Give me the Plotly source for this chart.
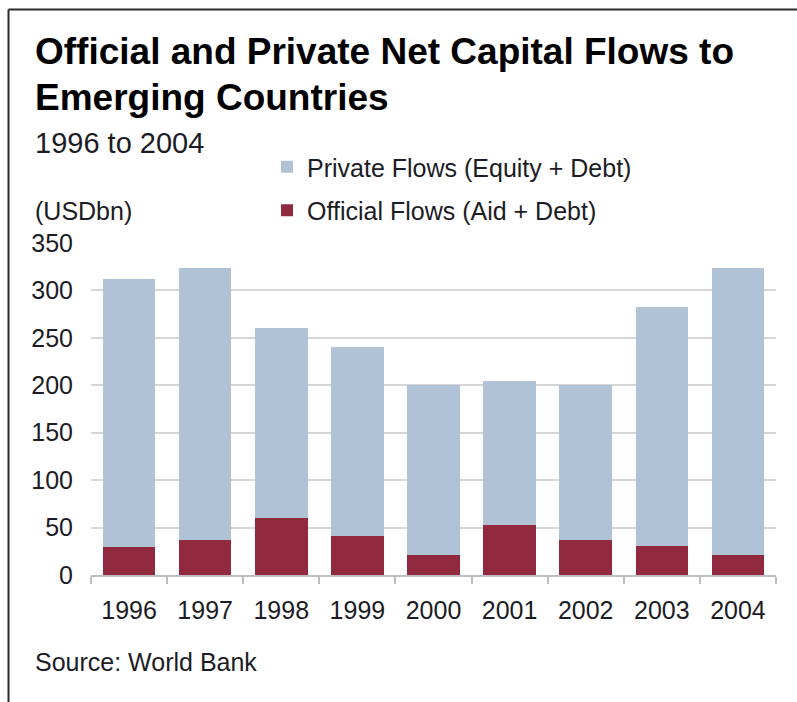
import plotly.graph_objects as go

# Net capital flows to emerging countries, USD bn
years = ["1996", "1997", "1998", "1999", "2000", "2001", "2002", "2003", "2004"]
official_flows = [29, 37, 60, 41, 21, 53, 37, 31, 21]
total_flows = [312, 324, 260, 240, 200, 205, 200, 283, 324]
private_flows = [t - o for t, o in zip(total_flows, official_flows)]
y_ticks = [0, 50, 100, 150, 200, 250, 300, 350]

W, H = 797, 702
L, R, T, B = 91, 21, 243, 127
PW, PH = W - L - R, H - T - B

FONT = "Liberation Sans, Arial, sans-serif"
TXT = "#1c1c24"
PRIVATE_C = "#B0C3D6"
OFFICIAL_C = "#922A3F"


def px(x):
    return (x - L) / PW


def py(y):
    return (H - B - y) / PH


fig = go.Figure()
fig.add_trace(go.Bar(
    x=years, y=official_flows, name="Official Flows (Aid + Debt)",
    marker=dict(color=OFFICIAL_C, line=dict(width=0)),
    legendgroup="off", legendrank=2,
))
fig.add_trace(go.Bar(
    x=years, y=private_flows, name="Private Flows (Equity + Debt)",
    marker=dict(color=PRIVATE_C, line=dict(width=0)),
    legendgroup="priv", legendrank=1,
))

annotations = [
    dict(text="<b>Official and Private Net Capital Flows to</b>", x=px(33), y=py(52),
         font=dict(size=37, color="#000000")),
    dict(text="<b>Emerging Countries</b>", x=px(33), y=py(97),
         font=dict(size=37, color="#000000")),
    dict(text="1996 to 2004", x=px(33), y=py(143), font=dict(size=29, color=TXT)),
    dict(text="(USDbn)", x=px(33), y=py(211), font=dict(size=25, color=TXT)),
    dict(text="Source: World Bank", x=px(33), y=py(662), font=dict(size=25, color=TXT)),
]
for a in annotations:
    a.update(xref="paper", yref="paper", xanchor="left", yanchor="middle",
             showarrow=False)

shapes = [
    dict(type="line", xref="paper", yref="paper", x0=px(8.5), x1=px(W + 2),
         y0=py(9.5), y1=py(9.5), line=dict(color="#2a2a2a", width=2)),
    dict(type="line", xref="paper", yref="paper", x0=px(8.5), x1=px(8.5),
         y0=py(9.5), y1=py(H + 2), line=dict(color="#2a2a2a", width=2)),
]

fig.update_layout(
    width=W, height=H,
    margin=dict(l=L, r=R, t=T, b=B),
    paper_bgcolor="white", plot_bgcolor="white",
    barmode="stack", bargap=0.31,
    font=dict(family=FONT, size=25, color=TXT),
    showlegend=True,
    legend=dict(
        x=px(267), y=py(144), xanchor="left", yanchor="top",
        traceorder="grouped", tracegroupgap=8,
        font=dict(size=25, color=TXT), bgcolor="rgba(0,0,0,0)",
        itemclick=False, itemdoubleclick=False,
    ),
    annotations=annotations,
    shapes=shapes,
    xaxis=dict(
        showline=True, linecolor="#BDBDBD", linewidth=2,
        ticks="outside", tickson="boundaries", ticklen=7, tickcolor="#BDBDBD",
        tickwidth=1.5, showgrid=False, ticklabelstandoff=12,
        tickfont=dict(size=25, color=TXT),
    ),
    yaxis=dict(
        range=[0, 350], tickvals=y_ticks, showgrid=True, gridcolor="#D6D6D6",
        gridwidth=2, zeroline=False, showline=False, ticks="",
        ticklabelstandoff=17, tickfont=dict(size=25, color=TXT),
    ),
)

fig.write_html("out.html")
